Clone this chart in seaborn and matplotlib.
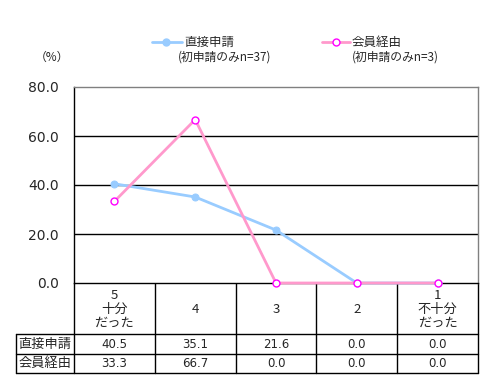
import matplotlib
matplotlib.use("Agg")
import matplotlib.pyplot as plt
import seaborn as sns
import numpy as np
import pandas as pd
from matplotlib.lines import Line2D

categories = ["5\n十分\nだった", "4", "3", "2", "1\n不十分\nだった"]
series_names = ["直接申請", "会員経由"]
series_sub = ["(初申請のみn=37)", "(初申請のみn=3)"]
direct = [40.5, 35.1, 21.6, 0.0, 0.0]
member = [33.3, 66.7, 0.0, 0.0, 0.0]
yticks = [0, 20, 40, 60, 80]

sns.set_theme(style="white")
plt.rcParams['font.family'] = ['Noto Sans CJK JP', 'DejaVu Sans']

W, H = 493, 388
fig = plt.figure(figsize=(W / 100, H / 100), dpi=100)

def fx(px):
    return px / W

def fy(py):
    return 1 - py / H

L, R, T, B = 74, 478, 87, 283
ax = fig.add_axes([fx(L), fy(B), fx(R) - fx(L), fy(T) - fy(B)])
ax.set_facecolor("white")

x = np.arange(len(categories))
df = pd.DataFrame({"x": np.concatenate([x, x]),
                   "v": direct + member,
                   "s": [series_names[0]] * 5 + [series_names[1]] * 5})

sns.lineplot(data=df[df.s == series_names[0]], x="x", y="v", ax=ax,
             color="#99CCFF", linewidth=2, marker="o", markersize=5,
             markerfacecolor="#99CCFF", markeredgecolor="#99CCFF", clip_on=False, zorder=3)
sns.lineplot(data=df[df.s == series_names[1]], x="x", y="v", ax=ax,
             color="#FF99CC", linewidth=2, marker="o", markersize=5,
             markerfacecolor="white", markeredgecolor="#FF00FF", markeredgewidth=1,
             clip_on=False, zorder=4)

ax.set_xlim(-0.5, 4.5)
ax.set_ylim(0, 80)
ax.set_yticks(yticks)
ax.set_yticklabels([f"{v:.1f}" for v in yticks], fontsize=10, family=['DejaVu Sans'])
ax.set_xticks([])
ax.set_xlabel("")
ax.set_ylabel("")
ax.tick_params(axis="y", length=0, pad=11)
for v in [20, 40, 60]:
    ax.axhline(v, color="black", linewidth=1, zorder=1)
for side in ["left", "bottom"]:
    ax.spines[side].set_color("black")
    ax.spines[side].set_linewidth(1)
for side in ["top", "right"]:
    ax.spines[side].set_color("#808080")
    ax.spines[side].set_linewidth(1)
legend = ax.get_legend()
if legend:
    legend.remove()

# table
tab = fig.add_axes([0, 0, 1, 1], zorder=-1)
tab.set_xlim(0, W)
tab.set_ylim(H, 0)
tab.axis("off")
colw = (R - L) / 5
r1, r2, r3 = 334, 354, 373
tab.plot([16, R], [r1, r1], color="black", lw=1)
tab.plot([16, R], [r2, r2], color="black", lw=1)
tab.plot([16, R], [r3, r3], color="black", lw=1)
tab.plot([16, 16], [r1, r3], color="black", lw=1)
tab.plot([L, L], [B, r3], color="black", lw=1)
for k in range(1, 5):
    xx = L + k * colw
    tab.plot([xx, xx], [B, r3], color="black", lw=1)
tab.plot([R, R], [B, r3], color="black", lw=1)

for i, c in enumerate(categories):
    cx = L + (i + 0.5) * colw
    tab.text(cx, (B + r1) / 2 + 1, c, ha="center", va="center", fontsize=9.5,
             linespacing=1.1)
for j, vals in enumerate([direct, member]):
    cy = (r1 + r2) / 2 if j == 0 else (r2 + r3) / 2
    tab.text((16 + L) / 2, cy, series_names[j], ha="center", va="center", fontsize=9.5)
    for i, v in enumerate(vals):
        cx = L + (i + 0.5) * colw
        tab.text(cx, cy, f"{v:.1f}", ha="center", va="center", fontsize=8.5,
                 family=['DejaVu Sans'])

# legend
tab.add_line(Line2D([152, 182], [42, 42], color="#99CCFF", lw=2))
tab.plot([166], [42], marker="o", ms=5, color="#99CCFF")
tab.add_line(Line2D([322, 350], [42, 42], color="#FF99CC", lw=2))
tab.plot([336], [42], marker="o", ms=5, mfc="white", mec="#FF00FF")
tab.text(184, 42, series_names[0], ha="left", va="center", fontsize=9)
tab.text(178, 57, series_sub[0], ha="left", va="center", fontsize=8.5)
tab.text(352, 42, series_names[1], ha="left", va="center", fontsize=9)
tab.text(352, 57, series_sub[1], ha="left", va="center", fontsize=8.5)
tab.text(52, 57, "（%）", ha="center", va="center", fontsize=8.5)

fig.savefig("out.png", dpi=100, facecolor="white")
